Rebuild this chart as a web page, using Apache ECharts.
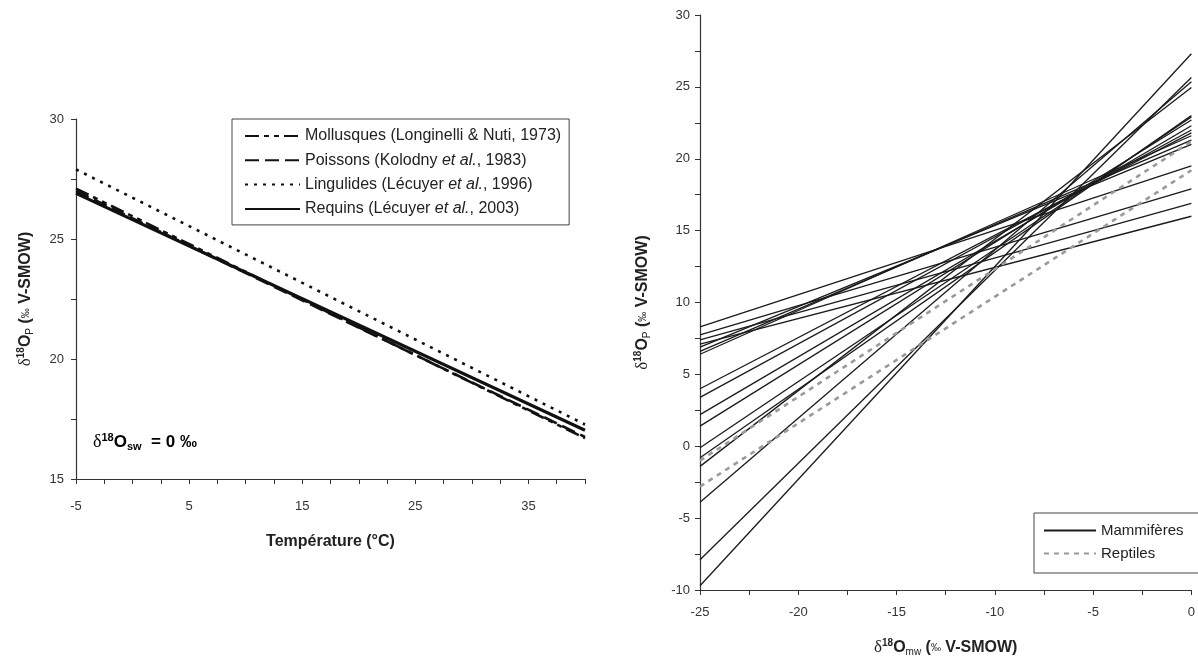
<!DOCTYPE html>
<html><head><meta charset="utf-8">
<script src="https://cdn.jsdelivr.net/npm/echarts@6/dist/echarts.min.js"></script>
<style>html,body{margin:0;padding:0;background:#fff}#c{width:1198px;height:662px}</style>
</head><body><div id="c"></div>
<script>
// ---- Left panel: δ18Op vs temperature (δ18Osw = 0 ‰) ----
const tempRange = [-5, 40];
const mollusques = [27.1, 16.7];
const poissons = [27.0, 16.75];
const lingulides = [27.9, 17.27];
const requins = [26.9, 17.03];
const leftNames = [
  'Mollusques (Longinelli & Nuti, 1973)',
  'Poissons (Kolodny et al., 1983)',
  'Lingulides (Lécuyer et al., 1996)',
  'Requins (Lécuyer et al., 2003)'
];
const tempTickLabels = [-5, 5, 15, 25, 35];
const leftYTickLabels = [15, 20, 25, 30];

// ---- Right panel: δ18Op vs δ18Omw ----
const mwRange = [-25, 0];
const mammalStart = [8.3, 7.75, 7.4, 7.1, 6.9, 6.6, 6.4, 4.0, 3.4, 2.2, 1.4, -0.1, -0.8, -1.4, -3.9, -7.9, -9.7];
const mammalEnd   = [19.5, 17.9, 16.9, 16.0, 21.0, 21.3, 21.6, 21.8, 22.0, 22.3, 22.7, 22.9, 23.0, 24.95, 25.35, 25.65, 27.3];
const reptileStart = [-1.0, -2.8];
const reptileEnd   = [21.2, 19.2];
const rightNames = ['Mammifères', 'Reptiles'];
const mwTickLabels = [-25, -20, -15, -10, -5, 0];
const rightYTickLabels = [-10, -5, 0, 5, 10, 15, 20, 25, 30];

const FONT = 'Liberation Sans';
const chart = echarts.init(document.getElementById('c'), null, {renderer: 'canvas'});

function seg(range, a, b) { return [[range[0], a], [range[1], b]]; }
function labelFmt(list) { return v => (list.indexOf(Math.round(v * 100) / 100) >= 0 ? String(v) : ''); }

const nameRich = {
  d: {fontFamily: 'Liberation Serif', fontSize: 17, color: '#222'},
  sup: {fontFamily: FONT, fontSize: 10, fontWeight: 'bold', color: '#222', padding: [0, 0, 10, 0]},
  b: {fontFamily: FONT, fontSize: 16, fontWeight: 'bold', color: '#222'},
  sub: {fontFamily: FONT, fontSize: 10, color: '#222', padding: [8, 0, 0, 0]},
  sp: {fontFamily: FONT, fontSize: 10, color: '#222'}
};

const axisCommon = {
  type: 'value',
  splitLine: {show: false},
  axisLine: {show: true, onZero: false, lineStyle: {color: '#333', width: 1.2}},
  axisTick: {show: true, inside: false, length: 5, lineStyle: {color: '#333'}},
  axisLabel: {color: '#333', fontFamily: FONT, fontSize: 13}
};

const series = [];
const leftStyles = [
  {data: mollusques, type: [14, 5, 5, 5, 5, 5], width: 2.6},
  {data: poissons, type: [14, 6], width: 2.6},
  {data: lingulides, type: [3, 6], width: 2.6},
  {data: requins, type: 'solid', width: 3.2}
];
leftStyles.forEach((s, i) => {
  series.push({
    name: leftNames[i], type: 'line', xAxisIndex: 0, yAxisIndex: 0,
    data: seg(tempRange, s.data[0], s.data[1]), symbol: 'none', silent: true,
    itemStyle: {color: '#111'},
    lineStyle: {color: '#111', width: s.width, type: s.type}, z: i === 3 ? 3 : 4
  });
});
mammalStart.forEach((a, i) => {
  series.push({
    name: rightNames[0], type: 'line', xAxisIndex: 1, yAxisIndex: 1,
    data: seg(mwRange, a, mammalEnd[i]), symbol: 'none', silent: true,
    itemStyle: {color: '#1a1a1a'},
    lineStyle: {color: '#1a1a1a', width: 1.3, type: 'solid'}
  });
});
reptileStart.forEach((a, i) => {
  series.push({
    name: rightNames[1], type: 'line', xAxisIndex: 1, yAxisIndex: 1,
    data: seg(mwRange, a, reptileEnd[i]), symbol: 'none', silent: true,
    itemStyle: {color: '#9a9a9a'},
    lineStyle: {color: '#9a9a9a', width: 2.6, type: [5, 5]}, z: 5
  });
});

const legendItemStyle = {opacity: 0, color: 'transparent', borderWidth: 0};

const option = {
  animation: false,
  backgroundColor: '#fff',
  grid: [
    {left: 76, right: 613, top: 119, bottom: 183, containLabel: false},
    {left: 700, right: 6, top: 15, bottom: 72, containLabel: false}
  ],
  xAxis: [
    Object.assign({}, axisCommon, {
      gridIndex: 0, min: tempRange[0], max: tempRange[1], interval: 2.5,
      axisLabel: Object.assign({}, axisCommon.axisLabel, {formatter: labelFmt(tempTickLabels), margin: 21}),
      name: 'Température (°C)', nameLocation: 'middle', nameGap: 55,
      nameTextStyle: {fontFamily: FONT, fontSize: 16, fontWeight: 'bold', color: '#222'}
    }),
    Object.assign({}, axisCommon, {
      gridIndex: 1, min: mwRange[0], max: mwRange[1], interval: 2.5,
      axisLabel: Object.assign({}, axisCommon.axisLabel, {formatter: labelFmt(mwTickLabels), margin: 16}),
      name: '{d|δ}{sup|18}{b|O}{sub|mw}{b| (}{sp|‰}{b| V-SMOW)}', nameLocation: 'middle', nameGap: 48,
      nameTextStyle: {rich: nameRich}
    })
  ],
  yAxis: [
    Object.assign({}, axisCommon, {
      gridIndex: 0, min: 15, max: 30, interval: 2.5,
      axisLabel: Object.assign({}, axisCommon.axisLabel, {formatter: labelFmt(leftYTickLabels), margin: 12}),
      name: '{d|δ}{sup|18}{b|O}{sub|P}{b| (}{sp|‰}{b| V-SMOW)}', nameLocation: 'middle', nameGap: 40, nameRotate: 90,
      nameTextStyle: {rich: nameRich}
    }),
    Object.assign({}, axisCommon, {
      gridIndex: 1, min: -10, max: 30, interval: 2.5,
      axisLabel: Object.assign({}, axisCommon.axisLabel, {formatter: labelFmt(rightYTickLabels), margin: 10}),
      name: '{d|δ}{sup|18}{b|O}{sub|P}{b| (}{sp|‰}{b| V-SMOW)}', nameLocation: 'middle', nameGap: 47, nameRotate: 90,
      nameTextStyle: {rich: nameRich}
    })
  ],
  legend: [
    {
      data: leftNames, left: 232, top: 119, orient: 'vertical', selectedMode: false,
      itemWidth: 55, itemHeight: 14, itemGap: 8.3,
      itemStyle: legendItemStyle,
      borderColor: '#444', borderWidth: 1, padding: [9, 8, 8, 12],
      formatter: n => n.replace('et al.', '{i|et al.}'),
      textStyle: {fontFamily: FONT, fontSize: 16, color: '#222',
        rich: {i: {fontFamily: FONT, fontSize: 16, fontStyle: 'italic', color: '#222'}}}
    },
    {
      data: rightNames, left: 1034, top: 513, orient: 'vertical', selectedMode: false,
      itemWidth: 52, itemHeight: 14, itemGap: 8,
      itemStyle: legendItemStyle,
      borderColor: '#444', borderWidth: 1, padding: [10, 30, 12, 9],
      textStyle: {fontFamily: FONT, fontSize: 15, color: '#222'}
    }
  ],
  graphic: [
    {
      type: 'text', left: 93, top: 432,
      style: {
        text: '{d|δ}{sup|18}{b|O}{sub|sw}{b|  = 0 ‰}',
        rich: {
          d: {fontFamily: 'Liberation Serif', fontSize: 18, color: '#222'},
          sup: {fontFamily: FONT, fontSize: 11, fontWeight: 'bold', color: '#222', padding: [0, 0, 10, 0]},
          b: {fontFamily: FONT, fontSize: 17, fontWeight: 'bold', color: '#222'},
          sub: {fontFamily: FONT, fontSize: 11, fontWeight: 'bold', color: '#222', padding: [8, 0, 0, 0]}
        }
      }
    }
  ],
  series: series
};
chart.setOption(option);
</script>
</body></html>
